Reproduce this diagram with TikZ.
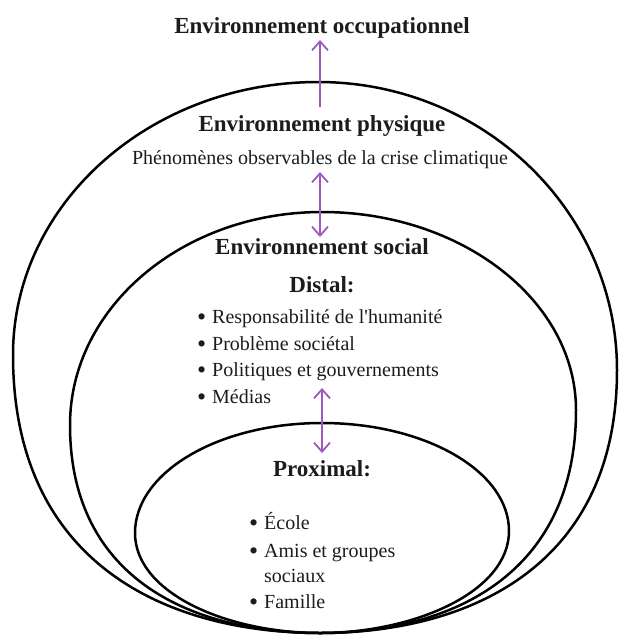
\documentclass[tikz,border=0pt]{standalone}
\usepackage{fontspec}
\usepackage{graphicx}
\setmainfont{Liberation Serif}
\newfontfamily\straightq{Liberation Serif}[Ligatures=TeXOff]
\usetikzlibrary{arrows.meta}
\definecolor{arrowpurple}{RGB}{160,88,190}
\definecolor{inktext}{RGB}{28,28,28}
\newcommand{\mybul}{\makebox[15pt][l]{\raisebox{-0.1em}{\scalebox{1.3}{\textbullet}}}}
\begin{document}
\begin{tikzpicture}[x=1pt,y=-1pt,
  ring/.style={line width=2.5pt, black},
  link/.style={arrowpurple, line width=1.8pt},
  barb/.tip={Straight Barb[length=9pt,width=16pt]},
  title/.style={font=\fontsize{23}{27}\selectfont\bfseries, text=inktext, inner sep=0pt, anchor=base},
  body/.style={font=\fontsize{20}{24}\selectfont, text=inktext, inner sep=0pt, anchor=base},
  item/.style={font=\fontsize{20}{24}\selectfont, text=inktext, inner sep=0pt, anchor=base west},
]
\useasboundingbox (0,0) rectangle (619,635);

% rings
\draw[ring] (320,633) .. controls (166,633) and (13,563) .. (13,355)
  .. controls (13,204) and (150,82) .. (318,82)
  .. controls (483,82) and (617,211) .. (617,370)
  .. controls (617,567) and (468,633) .. (320,633) -- cycle;
\draw[ring] (320,633) .. controls (195,633) and (70,581) .. (70,425)
  .. controls (70,307) and (183,212) .. (322,212)
  .. controls (462,212) and (576,301) .. (576,410)
  .. controls (576,577) and (448,633) .. (320,633) -- cycle;
\draw[ring] (320,633) .. controls (227,633) and (135,593) .. (135,533)
  .. controls (135,472) and (219,423) .. (322,423)
  .. controls (425,423) and (509,471) .. (509,531)
  .. controls (509,592) and (414,633) .. (320,633) -- cycle;

% texts
\node[title] (occ) at (322,33) {Environnement occupationnel};
\node[title] (phys) at (322,131) {Environnement physique};
\node[body] (phen) at (320,164) {Phénomènes observables de la crise climatique};
\node[title] (soc) at (322,254) {Environnement social};
\node[title] (dist) at (322,292) {Distal:};
\node[item] (d1) at (197,323) {\mybul Responsabilité de l{\straightq'}humanité};
\node[item] (d2) at (197,350) {\mybul Problème sociétal};
\node[item] (d3) at (197,376) {\mybul Politiques et gouvernements};
\node[item] (d4) at (197,403) {\mybul Médias};
\node[title] (prox) at (322,476) {Proximal:};
\node[item] (p1) at (249,529) {\mybul École};
\node[item] (p2) at (249,557) {\mybul Amis et groupes};
\node[item] (p3) at (264,582) {sociaux};
\node[item] (p4) at (249,608) {\mybul Famille};

% arrow end points
\coordinate (a1b) at (320,107);
\coordinate (a1t) at (320,40);
\coordinate (a2t) at (320,172);
\coordinate (a2b) at (320,237);
\coordinate (a3t) at (322,388);
\coordinate (a3b) at (322,453);

\draw[link, -barb] (a1b) -- (a1t);
\draw[link, barb-barb] (a2t) -- (a2b);
\draw[link, barb-barb] (a3t) -- (a3b);
\end{tikzpicture}
\end{document}
